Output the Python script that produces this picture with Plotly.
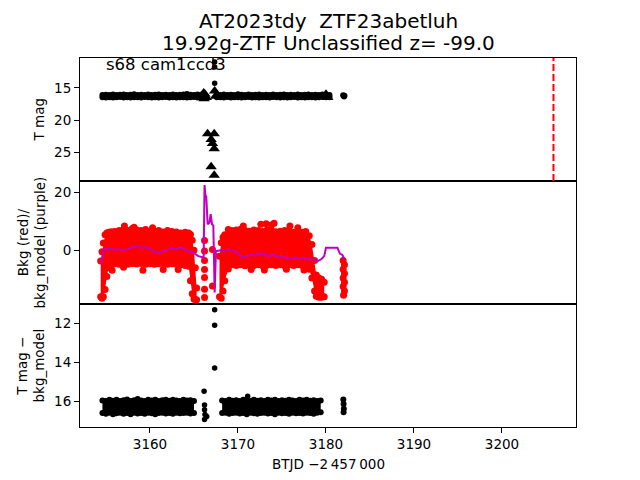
import plotly.graph_objects as go

# ---------------- data ----------------
X_RANGE = [3152.05, 3208.41]
X_TICKS = [3160, 3170, 3180, 3190, 3200]
T_EVENT = 3205.85

# top panel: T mag (reversed axis)
TOP_RANGE = [29.4, 10.4]
TOP_TICKS = [15, 20, 25]
TOP_A_T = [3154.6, 3155.0, 3155.4, 3155.8, 3156.2, 3156.6, 3157.0, 3157.4, 3157.8, 3158.2,
           3158.6, 3159.0, 3159.4, 3159.8, 3160.2, 3160.6, 3161.0, 3161.4, 3161.8, 3162.2,
           3162.6, 3163.0, 3163.4, 3163.8, 3164.2, 3164.6, 3165.0, 3165.4, 3165.8]
TOP_A_HI = [16.10, 16.06, 16.10, 16.04, 16.10, 16.08, 16.02, 16.10, 16.06, 16.00,
            16.10, 16.06, 16.10, 16.04, 16.10, 16.06, 16.02, 16.10, 16.06, 16.10,
            16.04, 16.10, 16.06, 16.02, 15.95, 16.08, 16.10, 16.04, 16.08]
TOP_A_LO = [16.45, 16.50, 16.45, 16.52, 16.46, 16.44, 16.50, 16.45, 16.52, 16.46,
            16.45, 16.50, 16.44, 16.46, 16.52, 16.45, 16.50, 16.46, 16.44, 16.50,
            16.45, 16.52, 16.46, 16.45, 16.50, 16.46, 16.44, 16.50, 16.45]
TOP_B_T = [3167.6, 3168.0, 3168.4, 3168.8, 3169.2, 3169.6, 3170.0, 3170.4, 3170.8, 3171.2,
           3171.6, 3172.0, 3172.4, 3172.8, 3173.2, 3173.6, 3174.0, 3174.4, 3174.8, 3175.2,
           3175.6, 3176.0, 3176.4, 3176.8, 3177.2, 3177.6, 3178.0, 3178.4, 3178.8, 3179.2,
           3179.6, 3180.0, 3180.4]
TOP_B_HI = [16.08, 16.10, 16.04, 16.10, 16.06, 16.10, 16.00, 16.06, 16.10, 16.04,
            16.10, 16.06, 16.02, 16.10, 16.06, 16.10, 16.04, 16.10, 16.06, 16.02,
            16.10, 16.06, 16.10, 16.04, 16.10, 16.06, 16.02, 16.10, 16.06, 16.10,
            16.04, 16.06, 16.10]
TOP_B_LO = [16.46, 16.45, 16.50, 16.44, 16.52, 16.46, 16.45, 16.50, 16.46, 16.44,
            16.50, 16.45, 16.52, 16.46, 16.45, 16.50, 16.44, 16.46, 16.52, 16.45,
            16.50, 16.46, 16.44, 16.50, 16.45, 16.52, 16.46, 16.45, 16.50, 16.46,
            16.44, 16.46, 16.45]
TOP_C_T = [3181.95, 3182.05, 3182.10]
TOP_C_M = [16.15, 16.35, 16.25]
TOP_PEAK_T = [3167.35, 3167.35, 3167.35]
TOP_PEAK_M = [11.0, 11.8, 14.3]
TRI_T = [3165.95, 3166.10, 3166.25, 3166.40, 3166.15, 3166.55, 3166.95, 3167.10, 3167.30,
         3167.30, 3166.95, 3167.30, 3167.35, 3167.45, 3180.00, 3180.10, 3180.20]
TRI_M = [16.2, 15.8, 16.0, 16.5, 16.7, 22.1, 23.0, 23.6, 24.4,
         22.1, 27.2, 28.5, 15.5, 16.3, 16.0, 16.3, 16.5]

# middle panel: background (red) and background model (purple)
MID_RANGE = [-18.5, 23.9]
MID_TICKS = [0, 20]
RED_A_T = [3154.40, 3154.55, 3154.70, 3154.90, 3155.10, 3155.30, 3155.60, 3156.00, 3156.50, 3157.00,
           3157.50, 3158.00, 3158.50, 3159.00, 3159.50, 3160.00, 3160.50, 3161.00, 3161.50, 3162.00,
           3162.50, 3163.00, 3163.50, 3164.00, 3164.40, 3164.60, 3164.80, 3165.00, 3165.15, 3165.30]
RED_A_HI = [-3.7, -0.5, 2.5, 5.4, 6.0, 6.2, 6.4, 6.5, 6.8, 7.2,
            6.8, 7.5, 7.0, 6.8, 7.2, 6.6, 6.4, 6.8, 6.3, 6.8,
            6.5, 6.3, 6.0, 6.2, 6.0, 5.5, 3.5, 0.0, -6.0, -13.0]
RED_A_LO = [-16.0, -16.5, -16.0, -13.5, -9.0, -6.0, -4.8, -4.6, -4.8, -4.5,
            -4.8, -4.5, -4.7, -4.5, -4.8, -4.6, -4.8, -4.6, -4.5, -4.8,
            -4.6, -4.8, -5.0, -5.2, -5.5, -10.5, -15.0, -16.8, -17.0, -17.0]
RED_B_T = [3167.90, 3168.10, 3168.30, 3168.50, 3168.90, 3169.30, 3169.80, 3170.30, 3170.80, 3171.30,
           3171.80, 3172.30, 3172.80, 3173.30, 3173.80, 3174.30, 3174.80, 3175.30, 3175.80, 3176.30,
           3176.80, 3177.30, 3177.70, 3178.10, 3178.40, 3178.70, 3178.90, 3179.20, 3179.50, 3179.80]
RED_B_HI = [-2.0, 2.6, 4.5, 5.4, 7.2, 6.8, 7.0, 7.3, 6.8, 6.6,
            7.0, 6.8, 6.5, 7.0, 6.8, 6.4, 6.6, 6.8, 6.4, 6.2,
            6.6, 6.2, 6.5, 5.0, 2.0, -3.5, -8.5, -9.5, -10.0, -11.0]
RED_B_LO = [-16.0, -16.5, -14.0, -10.5, -6.4, -5.0, -5.2, -5.0, -5.3, -5.0,
            -5.2, -5.0, -5.3, -5.1, -5.0, -5.2, -5.0, -5.3, -5.0, -5.2,
            -5.0, -5.2, -5.2, -6.5, -9.5, -14.0, -15.8, -16.2, -16.2, -16.0]
RED_C_T = [3181.95, 3182.10, 3181.95, 3182.10, 3181.95, 3182.10, 3181.95, 3182.10, 3182.00]
RED_C_V = [-3.5, -5.0, -6.5, -8.0, -9.5, -11.0, -12.5, -14.0, -15.5]
RED_X_T = [3155.7, 3157.0, 3159.2, 3161.5, 3163.2, 3157.1, 3158.2, 3160.3,
           3166.2, 3166.2, 3166.2, 3166.2, 3166.2, 3166.2, 3166.2, 3167.1, 3167.1,
           3170.6, 3172.6, 3173.2, 3173.8, 3174.1, 3175.9, 3176.8,
           3171.5, 3173.0, 3175.5, 3177.5]
RED_X_V = [-6.9, -5.8, -6.9, -6.6, -6.6, 8.4, 8.0, 7.8,
           3.4, -0.2, -3.5, -6.6, -9.4, -13.4, -16.3, 0.3, -12.3,
           8.4, 9.0, 9.2, 8.7, 9.3, 8.4, 7.8,
           -6.6, -6.8, -6.5, -6.8]
BKM_T = [3154.4, 3154.55, 3154.7, 3155.0, 3155.5, 3156.0, 3156.5, 3157.0, 3157.5, 3158.0,
         3158.5, 3159.0, 3159.5, 3160.0, 3160.5, 3161.0, 3161.5, 3162.0, 3162.5, 3163.0,
         3163.5, 3164.0, 3164.5, 3165.0, 3165.5, 3166.1, 3166.2, 3166.3, 3166.4, 3166.55,
         3166.75, 3166.9, 3167.05, 3167.2, 3167.35, 3167.5, 3168.0, 3168.5, 3169.0, 3169.5,
         3170.0, 3170.5, 3171.0, 3171.5, 3172.0, 3172.5, 3173.0, 3173.5, 3174.0, 3174.5,
         3175.0, 3175.5, 3176.0, 3176.5, 3177.0, 3177.5, 3178.0, 3178.5, 3179.0, 3179.5,
         3179.8, 3180.0, 3181.3, 3181.6, 3181.85, 3182.1]
BKM_V = [-4.5, -3.5, 0.3, 0.3, 0.5, 0.2, 0.4, 0.0, 0.6, 1.0,
         1.5, 0.8, 1.2, 0.3, -0.5, -0.8, -0.3, 0.2, 0.8, 0.5,
         1.0, 0.2, -0.5, -1.0, -2.0, -2.5, 22.5, 19.0, 18.5, 9.0,
         9.5, 12.5, 9.0, 8.5, -14.5, -0.3, 0.0, -0.2, 0.3, 0.0,
         -1.0, -2.5, -2.0, -1.5, -1.8, -1.0, -1.2, -2.0, -1.5, -2.2,
         -2.0, -2.8, -3.0, -2.5, -2.8, -2.5, -3.2, -3.0, -3.8, -3.0,
         -2.0, 0.9, 0.9, -1.2, -1.5, -3.0]

# bottom panel: T mag - bkg_model (reversed axis)
BOT_RANGE = [17.34, 11.0]
BOT_TICKS = [12, 14, 16]
BOT_A_T = [3154.6, 3155.0, 3155.4, 3155.8, 3156.2, 3156.6, 3157.0, 3157.4, 3157.8, 3158.2,
           3158.6, 3159.0, 3159.4, 3159.8, 3160.2, 3160.6, 3161.0, 3161.4, 3161.8, 3162.2,
           3162.6, 3163.0, 3163.4, 3163.8, 3164.2, 3164.6, 3165.0]
BOT_A_HI = [15.98, 16.00, 15.94, 15.99, 15.93, 16.00, 15.96, 15.92, 16.00, 15.96,
            15.90, 15.98, 16.00, 15.94, 15.98, 15.93, 16.00, 15.96, 15.93, 15.99,
            15.94, 15.98, 16.00, 15.93, 15.98, 15.96, 16.00]
BOT_A_LO = [16.62, 16.66, 16.60, 16.68, 16.63, 16.60, 16.66, 16.62, 16.68, 16.60,
            16.65, 16.62, 16.66, 16.60, 16.63, 16.68, 16.62, 16.60, 16.65, 16.62,
            16.66, 16.60, 16.63, 16.62, 16.60, 16.65, 16.62]
BOT_B_T = [3168.2, 3168.6, 3169.0, 3169.4, 3169.8, 3170.2, 3170.6, 3171.0, 3171.4, 3171.8,
           3172.2, 3172.6, 3173.0, 3173.4, 3173.8, 3174.2, 3174.6, 3175.0, 3175.4, 3175.8,
           3176.2, 3176.6, 3177.0, 3177.4, 3177.8, 3178.2, 3178.6, 3179.0, 3179.4]
BOT_B_HI = [15.97, 16.00, 15.94, 15.99, 15.96, 16.00, 15.93, 15.98, 16.00, 15.94,
            15.99, 15.96, 16.00, 15.93, 15.98, 15.94, 16.00, 15.96, 15.99, 15.93,
            15.98, 16.00, 15.94, 15.98, 15.93, 15.99, 15.96, 16.00, 15.98]
BOT_B_LO = [16.62, 16.60, 16.66, 16.62, 16.60, 16.65, 16.62, 16.68, 16.60, 16.63,
            16.66, 16.62, 16.60, 16.65, 16.62, 16.68, 16.60, 16.63, 16.62, 16.66,
            16.60, 16.63, 16.62, 16.65, 16.60, 16.62, 16.66, 16.60, 16.58]
BOT_C_T = [3181.97, 3182.00, 3182.03, 3182.00]
BOT_C_M = [15.92, 16.15, 16.40, 16.58]
BOT_X_T = [3166.15, 3166.20, 3166.20, 3166.25, 3166.45, 3166.20, 3167.35, 3167.35, 3167.35, 3171.1]
BOT_X_M = [15.5, 16.2, 16.45, 16.7, 16.8, 16.95, 11.3, 12.1, 14.3, 15.75]

TITLE_1 = "AT2023tdy\u00a0 ZTF23abetluh"
TITLE_2 = "19.92g-ZTF Unclassified z= -99.0"
LABEL_TEXT = "s68 cam1ccd3"

# ---------------- figure ----------------
BLACK = "black"
RED = "rgb(255,0,0)"
PURPLE = "rgb(191,0,191)"
FONT = "DejaVu Sans"

fig = go.Figure()


def band(t, hi, lo, color, size, xa, ya):
    fig.add_trace(go.Scatter(x=t + t[::-1], y=hi + lo[::-1], mode="lines", fill="toself",
                             fillcolor=color, line=dict(width=0, color=color),
                             xaxis=xa, yaxis=ya, hoverinfo="skip", showlegend=False))
    fig.add_trace(go.Scatter(x=t + t, y=hi + lo, mode="markers",
                             marker=dict(color=color, size=size, line=dict(width=0)),
                             xaxis=xa, yaxis=ya, showlegend=False))


def dots(t, v, color, size, xa, ya, symbol="circle"):
    fig.add_trace(go.Scatter(x=t, y=v, mode="markers",
                             marker=dict(color=color, size=size, symbol=symbol, line=dict(width=0)),
                             xaxis=xa, yaxis=ya, showlegend=False))


# top
band(TOP_A_T, TOP_A_HI, TOP_A_LO, BLACK, 6, "x", "y")
band(TOP_B_T, TOP_B_HI, TOP_B_LO, BLACK, 6, "x", "y")
dots(TOP_C_T, TOP_C_M, BLACK, 6, "x", "y")
dots(TOP_PEAK_T, TOP_PEAK_M, BLACK, 5.5, "x", "y")
dots(TRI_T, TRI_M, BLACK, 10, "x", "y", symbol="triangle-up")

# middle
band(RED_A_T, RED_A_HI, RED_A_LO, RED, 7, "x2", "y2")
band(RED_B_T, RED_B_HI, RED_B_LO, RED, 7, "x2", "y2")
dots(RED_C_T, RED_C_V, RED, 7, "x2", "y2")
dots(RED_X_T, RED_X_V, RED, 7, "x2", "y2")
fig.add_trace(go.Scatter(x=BKM_T, y=BKM_V, mode="lines", line=dict(color=PURPLE, width=2),
                         xaxis="x2", yaxis="y2", showlegend=False))

# bottom
band(BOT_A_T, BOT_A_HI, BOT_A_LO, BLACK, 6, "x3", "y3")
band(BOT_B_T, BOT_B_HI, BOT_B_LO, BLACK, 6, "x3", "y3")
dots(BOT_C_T, BOT_C_M, BLACK, 6, "x3", "y3")
dots(BOT_X_T, BOT_X_M, BLACK, 5.5, "x3", "y3")

tickfont = dict(family=FONT, size=13.5, color="black")
common = dict(showline=True, mirror=True, linecolor="black", linewidth=1,
              showgrid=False, zeroline=False, tickfont=tickfont,
              tickcolor="black", ticklen=5, tickwidth=1)

# the page body adds an 8px offset; margins compensate so the plot box sits at
# x 80..576, y 58..427 in the window
fig.update_layout(
    width=640, height=480,
    margin=dict(l=72, r=72, t=50, b=61),
    paper_bgcolor="white", plot_bgcolor="white",
    showlegend=False,
    xaxis=dict(domain=[0, 1], anchor="y", range=X_RANGE, showticklabels=False, ticks="", **common),
    xaxis2=dict(domain=[0, 1], anchor="y2", range=X_RANGE, showticklabels=False, ticks="", **common),
    xaxis3=dict(domain=[0, 1], anchor="y3", range=X_RANGE, tickvals=X_TICKS, ticks="outside", **common),
    yaxis=dict(domain=[2 / 3, 1], anchor="x", range=TOP_RANGE, tickvals=TOP_TICKS, ticks="outside", **common),
    yaxis2=dict(domain=[1 / 3, 2 / 3], anchor="x2", range=MID_RANGE, tickvals=MID_TICKS, ticks="outside", **common),
    yaxis3=dict(domain=[0, 1 / 3], anchor="x3", range=BOT_RANGE, tickvals=BOT_TICKS, ticks="outside", **common),
)

fig.add_shape(type="line", xref="x", yref="y domain", x0=T_EVENT, x1=T_EVENT, y0=0, y1=1,
              line=dict(color=RED, width=2, dash="7px,3px"))

labfont = dict(family=FONT, size=13.5, color="black")
ann = [
    dict(text=TITLE_1, x=0.5, y=1 + (58 - 21) / 369, font=dict(family=FONT, size=20, color="black")),
    dict(text=TITLE_2, x=0.5, y=1 + (58 - 43) / 369, font=dict(family=FONT, size=20, color="black")),
    dict(text=LABEL_TEXT, x=(104 - 80) / 496, y=1 - (64.5 - 58) / 369, xanchor="left",
         font=dict(family=FONT, size=16.5, color="black")),
    dict(text="T mag", x=(39 - 80) / 496, y=1 - (119.5 - 58) / 369, textangle=-90, font=labfont),
    dict(text="Bkg (red)/<br>bkg_model (purple)", x=(31 - 80) / 496, y=1 - (242.5 - 58) / 369,
         textangle=-90, font=labfont),
    dict(text="T mag \u2212<br>bkg_model", x=(30 - 80) / 496, y=1 - (365.5 - 58) / 369,
         textangle=-90, font=labfont),
    dict(text="BTJD \u22122\u2009457\u2009000", x=0.5, y=-(464 - 427) / 369, font=labfont),
]
for a in ann:
    a.setdefault("xanchor", "center")
    fig.add_annotation(xref="paper", yref="paper", showarrow=False, yanchor="middle", **a)

fig.write_html("out.html")
